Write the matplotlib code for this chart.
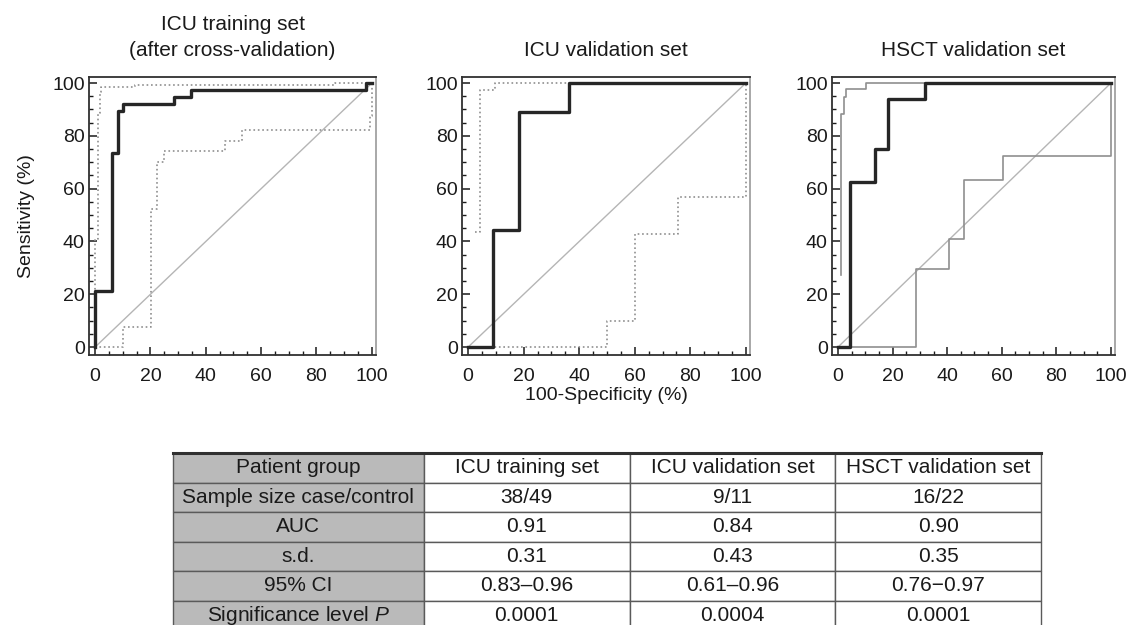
import matplotlib.pyplot as plt
from matplotlib.ticker import MultipleLocator

plt.rcParams['font.family'] = ['Liberation Sans', 'DejaVu Sans']
plt.rcParams['mathtext.fontset'] = 'custom'
plt.rcParams['mathtext.rm'] = 'Liberation Sans'
plt.rcParams['mathtext.it'] = 'Liberation Sans:italic'

# ROC curves as step corners: (100-specificity %, sensitivity %)
# ICU training set
train_fpr = [0, 0, 6.1, 8.2, 10.2, 28.6, 34.7, 98.0, 100]
train_tpr = [0, 21.1, 73.7, 89.5, 92.1, 94.7, 97.4, 100, 100]
train_up_fpr = [0, 0, 1.0, 1.8, 2.2, 14.4, 86.6, 100]
train_up_tpr = [0, 41, 88.5, 96.6, 98.5, 99.2, 100, 100]
train_lo_fpr = [0, 10.2, 20.2, 22.3, 25.0, 47.1, 53.2, 99.4, 100]
train_lo_tpr = [0, 7.5, 52.3, 70.0, 74.3, 78.2, 82.2, 87.4, 100]

# ICU validation set
icu_fpr = [0, 9.1, 18.2, 36.4, 100]
icu_tpr = [0, 44.4, 88.9, 100, 100]
icu_up_fpr = [2.4, 4.4, 9.8, 100]
icu_up_tpr = [43.5, 97.3, 100, 100]
icu_lo_fpr = [0, 50.0, 60.0, 75.5, 100]
icu_lo_tpr = [0, 10.0, 42.8, 56.8, 100]

# HSCT validation set
hsct_fpr = [0, 4.5, 13.6, 18.2, 31.8, 100]
hsct_tpr = [0, 62.5, 75.0, 93.8, 100, 100]
hsct_up_fpr = [1.0, 1.0, 2.1, 3.0, 10.4, 100]
hsct_up_tpr = [27.3, 88.3, 94.7, 97.8, 100, 100]
hsct_lo_fpr = [0, 28.4, 40.7, 46.3, 60.4, 100]
hsct_lo_tpr = [0, 29.5, 41.0, 63.2, 72.4, 100]

titles = ['ICU training set\n(after cross-validation)', 'ICU validation set', 'HSCT validation set']
ticks = [0, 20, 40, 60, 80, 100]

# summary table
row_labels = ['Patient group', 'Sample size case/control', 'AUC', 's.d.', '95% CI',
              'Significance level $P$']
group_names = ['ICU training set', 'ICU validation set', 'HSCT validation set']
sample_sizes = ['38/49', '9/11', '16/22']
auc_values = ['0.91', '0.84', '0.90']
sd_values = ['0.31', '0.43', '0.35']
ci_values = ['0.83\u20130.96', '0.61\u20130.96', '0.76\u22120.97']
p_values = ['0.0001', '0.0004', '0.0001']

curves = [
    (train_fpr, train_tpr, train_up_fpr, train_up_tpr, train_lo_fpr, train_lo_tpr, ':'),
    (icu_fpr, icu_tpr, icu_up_fpr, icu_up_tpr, icu_lo_fpr, icu_lo_tpr, ':'),
    (hsct_fpr, hsct_tpr, hsct_up_fpr, hsct_up_tpr, hsct_lo_fpr, hsct_lo_tpr, '-'),
]

fig = plt.figure(figsize=(11.3, 6.25), dpi=100)

# axes boxes in pixels: left, width
boxes = [(89, 287), (462, 288), (832, 283)]
for i, (fx, ty, ux, uy, lx, ly, ls) in enumerate(curves):
    ax = fig.add_axes([boxes[i][0] / 1130, 0.432, boxes[i][1] / 1130, 0.4448])
    ax.plot([0, 100], [0, 100], color='#b5b5b5', lw=1.0)
    ax.plot(ux, uy, drawstyle='steps-post', color='#8f8f8f', lw=1.2, ls=ls)
    ax.plot(lx, ly, drawstyle='steps-post', color='#8f8f8f', lw=1.2, ls=ls)
    ax.plot(fx, ty, drawstyle='steps-post', color='#262626', lw=2.4)
    ax.set_xlim(-2.2, 101.5)
    ax.set_ylim(-3, 102.3)
    ax.set_xticks(ticks)
    ax.set_yticks(ticks)
    ax.xaxis.set_minor_locator(MultipleLocator(5))
    ax.yaxis.set_minor_locator(MultipleLocator(5))
    ax.tick_params(which='major', direction='in', length=6, width=1.1, labelsize=14,
                   colors='#1a1a1a')
    ax.tick_params(which='minor', direction='in', length=3, width=1.0, colors='#1a1a1a')
    ax.tick_params(axis='x', pad=9.5)
    ax.tick_params(axis='y', pad=3)
    for side in ['left', 'bottom', 'top']:
        ax.spines[side].set_color('#303030')
        ax.spines[side].set_linewidth(1.3)
    ax.spines['right'].set_color('#9a9a9a')
    ax.spines['right'].set_linewidth(1.2)
    ax.set_title(titles[i], fontsize=15, pad=15, linespacing=1.45, color='#1a1a1a')
    if i == 0:
        ax.set_ylabel('Sensitivity (%)', fontsize=14, color='#1a1a1a')
        ax.yaxis.set_label_coords(-0.188, 0.5)

fig.text(606 / 1130, 1 - 396 / 625, '100-Specificity (%)', fontsize=14,
         ha='center', va='center', color='#1a1a1a')

# table
tax = fig.add_axes([173 / 1130, -0.008, 868 / 1130, 0.2832])
tax.axis('off')
rows = [[row_labels[0]] + group_names,
        [row_labels[1]] + sample_sizes,
        [row_labels[2]] + auc_values,
        [row_labels[3]] + sd_values,
        [row_labels[4]] + ci_values,
        [row_labels[5]] + p_values]
tab = tax.table(cellText=rows, colWidths=[0.289, 0.237, 0.237, 0.237],
                cellLoc='center', bbox=[0, 0, 1, 1])
tab.auto_set_font_size(False)
tab.set_fontsize(15)
for (r, c), cell in tab.get_celld().items():
    cell.set_edgecolor('#5a5a5a')
    cell.set_linewidth(1.0)
    cell.get_text().set_color('#1a1a1a')
    if c == 0:
        cell.set_facecolor('#bababa')
    else:
        cell.set_facecolor('white')
tax.plot([0, 1], [1, 1], color='#303030', lw=2.2, transform=tax.transAxes, clip_on=False)

fig.savefig('out.png', dpi=100)
